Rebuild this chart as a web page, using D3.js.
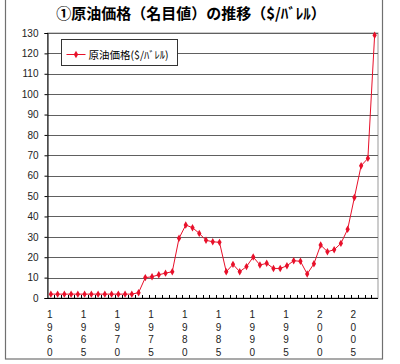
<!DOCTYPE html>
<html>
<head>
<meta charset="utf-8">
<script src="https://cdn.jsdelivr.net/npm/d3@7"></script>
<style>
  body { margin: 0; background: #fff; }
  svg { display: block; }
</style>
</head>
<body>
<svg id="chart" width="400" height="364"></svg>
<script>
// data (nominal crude price, $/barrel)
const years = d3.range(1960, 2009);
const prices = [
  1.9, 1.9, 1.9, 1.9, 1.9, 1.9, 1.9, 1.9, 1.9, 1.9,
  1.9, 1.9, 1.9, 2.6, 10.0, 10.4, 11.4, 12.2, 12.9, 29.3,
  35.8, 34.5, 31.7, 28.3, 27.6, 27.3, 12.9, 16.5, 12.9, 15.4,
  20.1, 16.2, 17.0, 14.5, 14.5, 15.8, 18.3, 18.0, 11.8, 16.8,
  26.0, 22.7, 23.7, 26.8, 33.7, 49.3, 64.9, 68.5, 128.9
];
const yTicks = d3.range(0, 131, 10);
const labelYears = years.filter(y => (y - 1960) % 5 === 0);
const title = '①原油価格（名目値）の推移（$/ﾊﾞﾚﾙ）';
const seriesName = '原油価格($/ﾊﾞﾚﾙ)';

const red = '#e8102a';
const jp = '"Noto Sans CJK JP", "Liberation Sans", sans-serif';
const num = '"Liberation Sans", Arial, sans-serif';

const svg = d3.select('#chart');
const plot = {left: 47.5, right: 378, top: 33, bottom: 298};

const x = d3.scaleBand().domain(years).range([plot.left, plot.right]).padding(0);
const y = d3.scaleLinear().domain([0, 130]).range([plot.bottom, plot.top]);

// outer chart border
svg.append('rect')
  .attr('x', 5.5).attr('y', -2).attr('width', 377).attr('height', 361)
  .attr('fill', '#fff').attr('stroke', '#707070').attr('stroke-width', 1.2);

// title
svg.append('text')
  .attr('x', 191).attr('y', 19)
  .attr('text-anchor', 'middle')
  .style('font-family', jp).style('font-weight', 'bold').style('font-size', '15px')
  .text(title);

// plot area border (right / top edges in grey)
svg.append('rect')
  .attr('x', plot.left).attr('y', plot.top)
  .attr('width', plot.right - plot.left).attr('height', plot.bottom - plot.top)
  .attr('fill', '#fff').attr('stroke', '#999').attr('stroke-width', 1);

// gridlines
svg.append('g')
  .selectAll('line')
  .data(yTicks.filter(d => d > 0))
  .join('line')
    .attr('x1', plot.left).attr('x2', plot.right)
    .attr('y1', d => Math.round(y(d)) + 0.5).attr('y2', d => Math.round(y(d)) + 0.5)
    .attr('stroke', '#606060').attr('stroke-width', 1);

// y axis
const yAxis = svg.append('g')
  .attr('transform', `translate(${plot.left},0)`)
  .call(d3.axisLeft(y).tickValues(yTicks).tickSize(3).tickPadding(6));
yAxis.select('.domain').attr('stroke', '#000');
yAxis.selectAll('.tick line').attr('stroke', '#000');
yAxis.selectAll('.tick text')
  .style('font-family', num).style('font-size', '10px').attr('fill', '#222');

// x axis: baseline plus small inside ticks at each category boundary
svg.append('line')
  .attr('x1', plot.left).attr('x2', plot.right)
  .attr('y1', plot.bottom + 0.5).attr('y2', plot.bottom + 0.5)
  .attr('stroke', '#000');
svg.append('g')
  .selectAll('line')
  .data(years.slice(1))
  .join('line')
    .attr('x1', d => Math.round(x(d)) + 0.5).attr('x2', d => Math.round(x(d)) + 0.5)
    .attr('y1', plot.bottom - 3).attr('y2', plot.bottom)
    .attr('stroke', '#000');

// x labels, one digit per line
const xl = svg.append('g')
  .selectAll('text')
  .data(labelYears)
  .join('text')
    .attr('text-anchor', 'middle')
    .style('font-family', num).style('font-size', '10px').attr('fill', '#222');
xl.selectAll('tspan')
  .data(d => String(d).split('').map(c => ({c, year: d})))
  .join('tspan')
    .attr('x', d => x(d.year) + x.bandwidth() / 2 - 1)
    .attr('y', (d, i) => 318 + i * 12.6)
    .text(d => d.c);

// series
const cx = d => x(d) + x.bandwidth() / 2;
const line = d3.line()
  .x((d, i) => cx(years[i]))
  .y(d => y(d));
svg.append('path')
  .datum(prices)
  .attr('d', line)
  .attr('fill', 'none').attr('stroke', red).attr('stroke-width', 1);
svg.append('g')
  .selectAll('path')
  .data(prices)
  .join('path')
    .attr('transform', (d, i) => `translate(${cx(years[i])},${y(d)})`)
    .attr('d', d3.symbol(d3.symbolDiamond, 16))
    .attr('fill', red);

// legend
const lg = svg.append('g').attr('transform', 'translate(61.5,39.5)');
lg.append('rect')
  .attr('width', 116).attr('height', 26)
  .attr('fill', '#fff').attr('stroke', '#333');
lg.append('line')
  .attr('x1', 5).attr('x2', 24).attr('y1', 15).attr('y2', 15)
  .attr('stroke', red);
lg.append('path')
  .attr('transform', 'translate(14.5,15)')
  .attr('d', d3.symbol(d3.symbolDiamond, 16))
  .attr('fill', red);
lg.append('text')
  .attr('x', 27).attr('y', 19)
  .style('font-family', jp).style('font-size', '10.5px')
  .text(seriesName);
</script>
</body>
</html>
